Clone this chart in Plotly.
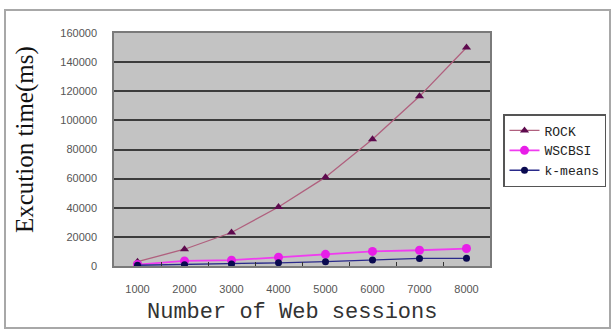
import plotly.graph_objects as go

sessions = [1000, 2000, 3000, 4000, 5000, 6000, 7000, 8000]
rock = [3000, 11500, 23000, 40500, 61000, 87000, 116500, 150000]
wscbsi = [1000, 3500, 4000, 6000, 8000, 10000, 10800, 12000]
kmeans = [500, 900, 1300, 2200, 3000, 4200, 5200, 5300]
y_ticks = [0, 20000, 40000, 60000, 80000, 100000, 120000, 140000, 160000]

W, H = 613, 336
L, R, T, B = 114, 123, 33, 70
pw, ph = W - L - R, H - T - B


def px(x):
    return (x - L) / pw


def py(y):
    return (H - B - y) / ph


fig = go.Figure()
fig.add_trace(go.Scatter(
    x=sessions, y=rock, name="ROCK", mode="lines+markers",
    line=dict(color="#B0607E", width=1.3),
    marker=dict(symbol="triangle-up", size=8, color="#5E0A4E"),
))
fig.add_trace(go.Scatter(
    x=sessions, y=wscbsi, name="WSCBSI", mode="lines+markers",
    line=dict(color="#F03CF0", width=1.8),
    marker=dict(symbol="circle", size=9, color="#E81EE8"),
))
fig.add_trace(go.Scatter(
    x=sessions, y=kmeans, name="k-means", mode="lines+markers",
    line=dict(color="#2A2A8A", width=1.3),
    marker=dict(symbol="circle", size=7, color="#0A0A50"),
))

fig.update_layout(
    width=W, height=H,
    margin=dict(l=L, r=R, t=T, b=B, autoexpand=False),
    paper_bgcolor="white",
    plot_bgcolor="#C3C3C3",
    showlegend=True,
    legend=dict(
        x=px(503), y=py(114), xanchor="left", yanchor="top",
        bgcolor="white", bordercolor="#555555", borderwidth=1.5,
        font=dict(family="Liberation Mono", size=13, color="#222222"),
        itemwidth=30, tracegroupgap=0,
    ),
    xaxis=dict(
        range=[500, 8500], tickvals=sessions,
        ticktext=[str(s) for s in sessions],
        showgrid=False, zeroline=False,
        showline=True, linecolor="#7A7A7A", linewidth=1.5, mirror=True,
        ticks="", ticklabelstandoff=12,
        tickfont=dict(family="Liberation Sans", size=11, color="#555555"),
        minor=dict(tickvals=[1500, 2500, 3500, 4500, 5500, 6500, 7500],
                   ticks="inside", ticklen=4, tickcolor="#333333", tickwidth=1.2),
    ),
    yaxis=dict(
        range=[0, 160000], tickvals=y_ticks,
        ticktext=[str(v) for v in y_ticks],
        showgrid=True, gridcolor="#3C3C3C", gridwidth=1.8,
        zeroline=True, zerolinecolor="#3C3C3C", zerolinewidth=1.8,
        showline=True, linecolor="#7A7A7A", linewidth=1.5, mirror=True,
        ticks="", ticklabelstandoff=13,
        tickfont=dict(family="Liberation Sans", size=11, color="#555555"),
    ),
    annotations=[
        dict(text="Excution time(ms)", xref="paper", yref="paper",
             x=px(25), y=py(140), textangle=-90, showarrow=False,
             xanchor="center", yanchor="middle",
             font=dict(family="Liberation Serif", size=25, color="#111111")),
        dict(text="Number of Web sessions", xref="paper", yref="paper",
             x=px(292), y=py(312), showarrow=False,
             xanchor="center", yanchor="middle",
             font=dict(family="Liberation Mono", size=22, color="#333333")),
    ],
    shapes=[
        dict(type="rect", xref="paper", yref="paper",
             x0=px(5), x1=px(610), y0=py(328), y1=py(10),
             line=dict(color="#A8A8A8", width=2), layer="below"),
    ],
)

fig.write_html("out.html")
